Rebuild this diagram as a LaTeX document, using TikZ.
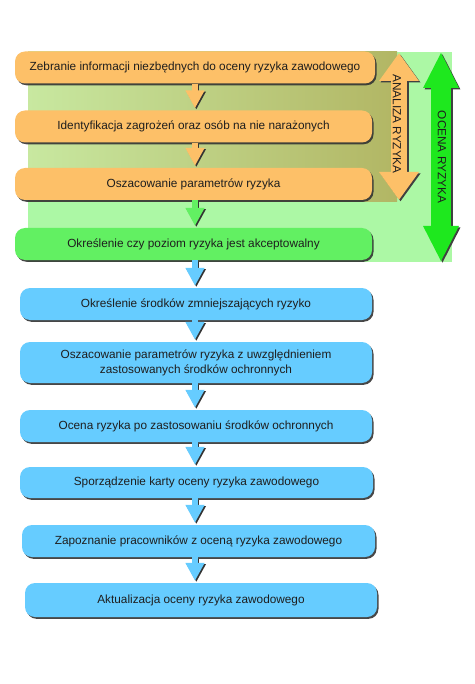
\documentclass[tikz,border=0pt]{standalone}
\usepackage{fontspec}
\setmainfont{Liberation Sans}
\usetikzlibrary{arrows.meta,shadows}
\definecolor{orangebox}{RGB}{253,192,104}
\definecolor{greenbox}{RGB}{98,240,98}
\definecolor{bluebox}{RGB}{102,204,255}
\definecolor{lightgreen}{RGB}{172,248,165}
\definecolor{olivel}{RGB}{200,232,160}
\definecolor{oliver}{RGB}{178,182,100}
\definecolor{ocenagreen}{RGB}{30,232,30}
\definecolor{textgray}{RGB}{30,30,30}
\tikzset{
  stepbox/.style={rounded corners=10pt, minimum height=32pt, inner sep=2pt,
    align=center, text=textgray, font=\fontsize{11.8}{15}\selectfont,
    drop shadow={shadow xshift=1.5pt, shadow yshift=-1.8pt, fill=black!80, opacity=0.9}},
  orangestep/.style={stepbox, fill=orangebox},
  greenstep/.style={stepbox, fill=greenbox},
  bluestep/.style={stepbox, fill=bluebox},
  flow/.style={line width=6pt, -{Triangle[width=18pt,length=18pt]}},
  flowshadow/.style={flow, draw=black!80, transform canvas={xshift=1.3pt,yshift=-1.3pt}},
  bigtext/.style={rotate=-90, text=textgray, font=\fontsize{11.8}{14}\selectfont},
}
\begin{document}
\begin{tikzpicture}[x=1pt,y=-1pt]
        \useasboundingbox (0,0) rectangle (474,684);
        %% background regions
        \fill[lightgreen] (28,52) rectangle (452,262);
        \shade[left color=olivel, right color=oliver] (28,52) rectangle (397,202);
        %% steps
        \node[orangestep, minimum width=360pt] (zebranie) at (195,67.5) {Zebranie informacji niezbędnych do oceny ryzyka zawodowego};
        \node[orangestep, minimum width=357pt] (identyf) at (193.5,126.5) {Identyfikacja zagrożeń oraz osób na nie narażonych};
        \node[orangestep, minimum width=357pt] (oszac) at (193.5,184) {Oszacowanie parametrów ryzyka};
        \node[greenstep, minimum width=357pt] (okresl) at (193.5,244) {Określenie czy poziom ryzyka jest akceptowalny};
        \node[bluestep, minimum width=352pt] (srodki) at (196,304) {Określenie środków zmniejszających ryzyko};
        \node[bluestep, minimum width=352pt, minimum height=41pt] (oszacdwa) at (196,362.5) {Oszacowanie parametrów ryzyka z uwzględnieniem\\zastosowanych środków ochronnych};
        \node[bluestep, minimum width=352pt] (ocena) at (196,426) {Ocena ryzyka po zastosowaniu środków ochronnych};
        \node[bluestep, minimum width=353pt, minimum height=31pt] (karta) at (196.5,482.5) {Sporządzenie karty oceny ryzyka zawodowego};
        \node[bluestep, minimum width=353pt] (zapozn) at (198.5,541) {Zapoznanie pracowników z oceną ryzyka zawodowego};
        \node[bluestep, minimum width=352pt, minimum height=34pt] (aktual) at (201,600) {Aktualizacja oceny ryzyka zawodowego};
        %% flow arrows
        \coordinate (axis) at (195,0);
        \foreach \a/\b/\c in {zebranie/identyf/orangebox, identyf/oszac/orangebox, oszac/okresl/greenbox,
                              okresl/srodki/bluebox, srodki/oszacdwa/bluebox, oszacdwa/ocena/bluebox,
                              ocena/karta/bluebox, karta/zapozn/bluebox, zapozn/aktual/bluebox}{
            \draw[flowshadow] (\a.south -| axis) -- ([yshift=2pt]\b.north -| axis);
            \draw[flow, draw=\c] (\a.south -| axis) -- ([yshift=2pt]\b.north -| axis);
        }
        %% analiza ryzyka
        \coordinate (analizaTop) at (399,53);
        \coordinate (analizaBot) at (399,200);
        \draw[line width=16pt, draw=black!75, transform canvas={xshift=1.5pt,yshift=-1.5pt},
              {Triangle[width=38pt,length=28pt]}-{Triangle[width=38pt,length=28pt]}] (analizaTop) -- (analizaBot);
        \draw[line width=16pt, draw=orangebox,
              {Triangle[width=38pt,length=28pt]}-{Triangle[width=38pt,length=28pt]}] (analizaTop) -- (analizaBot);
        \node[bigtext] (analiza) at (397,124) {ANALIZA RYZYKA};
        %% ocena ryzyka
        \coordinate (ocenaTop) at (441,52);
        \coordinate (ocenaBot) at (441,262);
        \draw[line width=20pt, draw=black!75, transform canvas={xshift=1.5pt,yshift=-1.5pt},
              {Triangle[width=33pt,length=36pt]}-{Triangle[width=33pt,length=36pt]}] (ocenaTop) -- (ocenaBot);
        \draw[line width=20pt, draw=ocenagreen,
              {Triangle[width=33pt,length=36pt]}-{Triangle[width=33pt,length=36pt]}] (ocenaTop) -- (ocenaBot);
        \node[bigtext] (ocenaryz) at (442,157) {OCENA RYZYKA};
\end{tikzpicture}
\end{document}
